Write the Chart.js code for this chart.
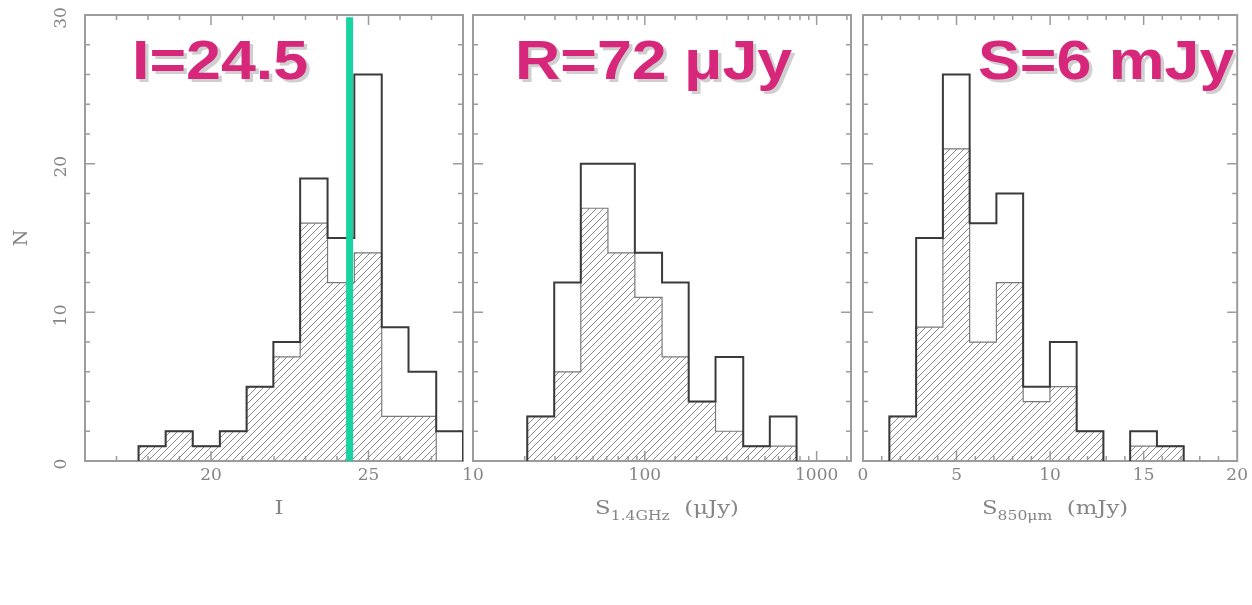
<!DOCTYPE html>
<html>
<head>
<meta charset="utf-8">
<script src="https://cdn.jsdelivr.net/npm/chart.js@4.4.0/dist/chart.umd.min.js"></script>
<style>
  html, body { margin: 0; padding: 0; background: #fff; }
  #wrap { position: relative; width: 1252px; height: 605px; }
  #wrap canvas { position: absolute; left: 0; top: 0; }
</style>
</head>
<body>
<div id="wrap">
  <canvas id="chart-imag" width="1252" height="605"></canvas>
  <canvas id="chart-radio" width="1252" height="605"></canvas>
  <canvas id="chart-submm" width="1252" height="605"></canvas>
</div>
<script>
// I-band magnitude histogram
const iEdges = [17.7, 18.56, 19.42, 20.28, 21.13, 21.98, 22.83, 23.7, 24.55, 25.42, 26.27, 27.15, 28.0];
const iAll = [1, 2, 1, 2, 5, 8, 19, 15, 26, 9, 6, 2];
const iSub = [1, 2, 1, 2, 5, 7, 16, 12, 14, 3, 3, 0];
const iCut = 24.4;

// 1.4 GHz flux histogram (log bins, uJy)
const radioEdges = [20.7, 29.7, 42.4, 61, 87.5, 126, 180, 258, 374, 534, 764];
const radioAll = [3, 12, 20, 20, 14, 12, 4, 7, 1, 3];
const radioSub = [3, 6, 17, 14, 11, 7, 4, 2, 1, 1];

// 850um flux histogram (mJy)
const smmEdges = [1.41, 2.84, 4.27, 5.7, 7.13, 8.56, 9.99, 11.42, 12.85, 14.28, 15.71, 17.14];
const smmAll = [3, 15, 26, 16, 18, 5, 8, 2, 0, 2, 1];
const smmSub = [3, 9, 21, 8, 12, 4, 5, 2, 0, 1, 1];

const yTickLabels = [0, 10, 20, 30];
const notes = ['I=24.5', 'R=72 \u03bcJy', 'S=6 mJy'];

const colors = {
  frame: '#9c9c9c',
  outline: '#3a3a3a',
  subOutline: '#7a7a7a',
  hatch: '#8c8c8c',
  text: '#858585',
  cut: '#18d3a2',
  note: '#d7277a',
  noteShadow: '#cfcfcf'
};
const tickFont = '17px "DejaVu Serif"';

function makeHatch() {
  const size = 7;
  const tile = document.createElement('canvas');
  tile.width = size; tile.height = size;
  const c = tile.getContext('2d');
  c.strokeStyle = colors.hatch;
  c.lineWidth = 1;
  c.beginPath();
  c.moveTo(-1, size + 1); c.lineTo(size + 1, -1);
  c.moveTo(-1, 1); c.lineTo(1, -1);
  c.moveTo(size - 1, size + 1); c.lineTo(size + 1, size - 1);
  c.stroke();
  return c.createPattern(tile, 'repeat');
}
const hatch = makeHatch();

// left-edge points for a 'before' stepped line, broken at empty bins
function stepPoints(edges, counts) {
  const pts = [];
  let open = false;
  counts.forEach((c, i) => {
    if (c === 0) {
      if (open) { pts.push({ x: edges[i], y: 0 }); pts.push({ x: edges[i], y: null }); open = false; }
      return;
    }
    if (!open) { pts.push({ x: edges[i], y: 0 }); open = true; }
    pts.push({ x: edges[i], y: c });
  });
  if (open) pts.push({ x: edges[counts.length], y: 0 });
  return pts;
}

const panels = [
  {
    id: 'chart-imag', left: 85, right: 463,
    edges: iEdges, all: iAll, sub: iSub, cut: iCut,
    x: { type: 'linear', min: 16, max: 28, ticks: { stepSize: 1 } },
    isMajor: v => v % 5 === 0,
    note: notes[0], noteX: 132,
    title: { main: 'I', sub: '', tail: '' },
    showY: true
  },
  {
    id: 'chart-radio', left: 473, right: 851,
    edges: radioEdges, all: radioAll, sub: radioSub,
    x: { type: 'logarithmic', min: 10, max: 1585, ticks: {} },
    isMajor: v => Math.abs(Math.log10(v) - Math.round(Math.log10(v))) < 1e-9,
    note: notes[1], noteX: 515,
    title: { main: 'S', sub: '1.4GHz', tail: '  (\u03bcJy)' },
    showY: false
  },
  {
    id: 'chart-submm', left: 863, right: 1241,
    edges: smmEdges, all: smmAll, sub: smmSub,
    x: { type: 'linear', min: 0, max: 20, ticks: { stepSize: 1 } },
    isMajor: v => v % 5 === 0,
    note: notes[2], noteX: 978,
    title: { main: 'S', sub: '850\u03bcm', tail: '  (mJy)' },
    showY: false
  }
];

const plotTop = 15, plotBottom = 461, xAxisHeight = 40;

function frameAndTicks(panel) {
  return {
    id: 'frame-' + panel.id,
    beforeDatasetsDraw(chart) {
      const { ctx, chartArea: a, scales } = chart;
      ctx.save();
      ctx.strokeStyle = colors.frame;
      ctx.lineWidth = 1.5;
      ctx.beginPath();
      scales.x.ticks.forEach(t => {
        const px = scales.x.getPixelForValue(t.value);
        if (px < a.left + 1 || px > a.right - 1) return;
        const len = panel.isMajor(t.value) ? 10 : 5;
        ctx.moveTo(px, a.bottom); ctx.lineTo(px, a.bottom - len);
        ctx.moveTo(px, a.top); ctx.lineTo(px, a.top + len);
      });
      scales.y.ticks.forEach(t => {
        const py = scales.y.getPixelForValue(t.value);
        if (py < a.top + 1 || py > a.bottom - 1) return;
        const len = t.value % 10 === 0 ? 10 : 5;
        ctx.moveTo(a.left, py); ctx.lineTo(a.left + len, py);
        ctx.moveTo(a.right, py); ctx.lineTo(a.right - len, py);
      });
      ctx.stroke();
      ctx.lineWidth = 2;
      ctx.strokeRect(a.left, a.top, a.right - a.left, a.bottom - a.top);
      ctx.restore();
    },
    afterDraw(chart) {
      const { ctx, chartArea: a, scales } = chart;
      ctx.save();
      ctx.fillStyle = colors.text;
      // y tick labels and N, rotated
      if (panel.showY) {
        ctx.save();
        ctx.font = tickFont;
        ctx.textAlign = 'center';
        ctx.textBaseline = 'middle';
        yTickLabels.forEach(v => {
          const py = scales.y.getPixelForValue(v);
          ctx.save(); ctx.translate(62, py + 3); ctx.rotate(-Math.PI / 2);
          ctx.fillText(String(v), 0, 0); ctx.restore();
        });
        ctx.translate(22, (a.top + a.bottom) / 2); ctx.rotate(-Math.PI / 2);
        ctx.font = '19px "DejaVu Serif"';
        ctx.fillText('N', 0, 0);
        ctx.restore();
      }
      // x axis title with subscript, slightly widened like the plotting font
      const t = panel.title;
      const mainFont = '19px "DejaVu Serif"', subFont = '13px "DejaVu Serif"';
      const stretch = 1.2;
      ctx.textAlign = 'left';
      ctx.textBaseline = 'alphabetic';
      ctx.font = mainFont; const w1 = ctx.measureText(t.main).width;
      const w3 = ctx.measureText(t.tail).width;
      ctx.font = subFont; const w2 = ctx.measureText(t.sub).width;
      ctx.save();
      ctx.translate((a.left + a.right) / 2 + 5, 514);
      ctx.scale(stretch, 1);
      let x0 = -(w1 + w2 + w3) / 2;
      ctx.font = mainFont; ctx.fillText(t.main, x0, 0); x0 += w1;
      ctx.font = subFont; ctx.fillText(t.sub, x0, 6); x0 += w2;
      ctx.font = mainFont; ctx.fillText(t.tail, x0, 0);
      ctx.restore();
      // big annotation
      ctx.font = 'bold 56px "Liberation Sans"';
      ctx.translate(panel.noteX, 79);
      ctx.scale(1.12, 1);
      ctx.fillStyle = colors.noteShadow;
      ctx.fillText(panel.note, 3, 3);
      ctx.fillStyle = colors.note;
      ctx.fillText(panel.note, 0, 0);
      ctx.restore();
    }
  };
}

function renderPanel(panel) {
  const datasets = [
    {
      label: 'subsample',
      data: stepPoints(panel.edges, panel.sub),
      stepped: 'before',
      borderColor: colors.subOutline,
      borderWidth: 1.2,
      backgroundColor: hatch,
      fill: 'origin',
      pointRadius: 0,
      order: 2
    },
    {
      label: 'all',
      data: stepPoints(panel.edges, panel.all),
      stepped: 'before',
      borderColor: colors.outline,
      borderWidth: 2,
      fill: false,
      pointRadius: 0,
      order: 1
    }
  ];
  if (panel.cut !== undefined) {
    datasets.push({
      label: 'cut',
      data: [{ x: panel.cut, y: 0 }, { x: panel.cut, y: 29.85 }],
      borderColor: colors.cut,
      borderWidth: 7,
      borderCapStyle: 'butt',
      fill: false,
      pointRadius: 0,
      order: 0
    });
  }

  const isMajor = panel.isMajor;
  new Chart(document.getElementById(panel.id), {
    type: 'line',
    data: { datasets },
    options: {
      responsive: false,
      animation: false,
      events: [],
      layout: { padding: { left: panel.left, right: 1252 - panel.right, top: plotTop, bottom: 605 - plotBottom - xAxisHeight } },
      plugins: { legend: { display: false }, tooltip: { enabled: false } },
      scales: {
        x: {
          type: panel.x.type,
          min: panel.x.min,
          max: panel.x.max,
          afterFit: s => { s.height = xAxisHeight; },
          grid: { display: false, drawTicks: false },
          border: { display: false },
          ticks: Object.assign({
            autoSkip: false,
            maxRotation: 0,
            minRotation: 0,
            padding: 4,
            color: colors.text,
            font: { family: 'DejaVu Serif', size: 17 },
            callback: v => isMajor(v) ? String(v) : ''
          }, panel.x.ticks)
        },
        y: {
          type: 'linear',
          min: 0,
          max: 30,
          afterFit: s => { s.width = 0; },
          grid: { display: false, drawTicks: false },
          border: { display: false },
          ticks: { display: false, stepSize: 2 }
        }
      }
    },
    plugins: [frameAndTicks(panel)]
  });
}

panels.forEach(renderPanel);
</script>
</body>
</html>
